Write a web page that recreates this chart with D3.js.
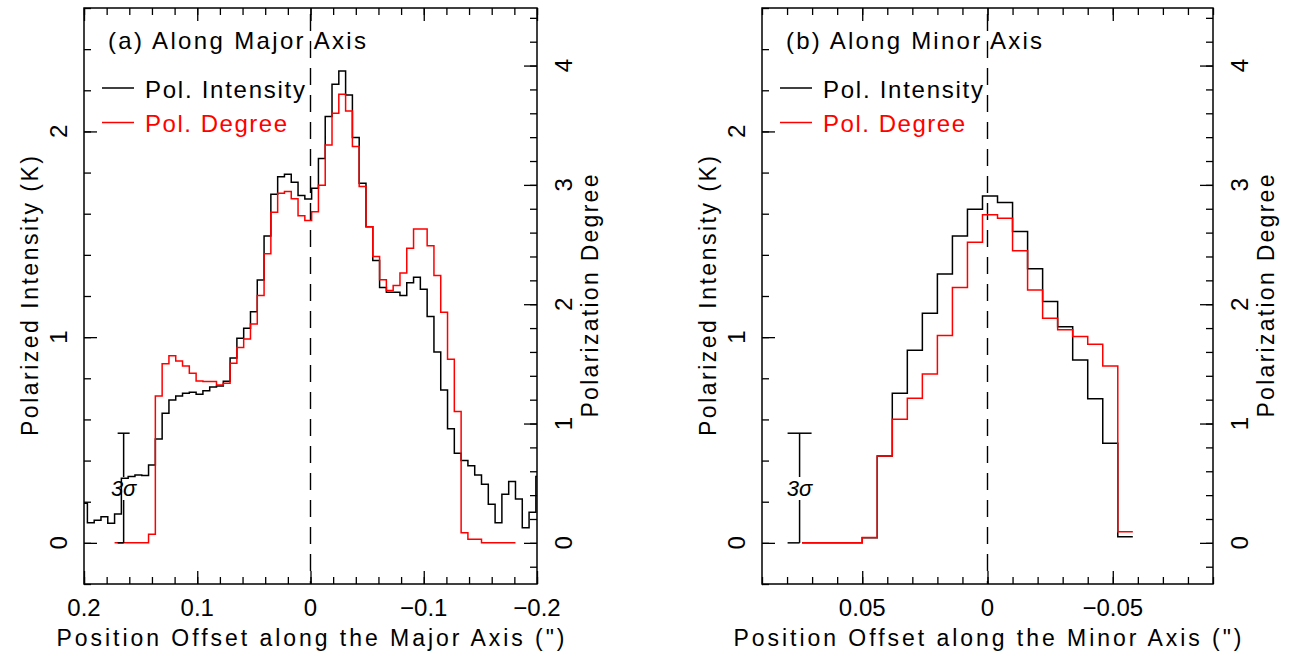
<!DOCTYPE html>
<html>
<head>
<meta charset="utf-8">
<title>Polarization profiles</title>
<script src="https://cdn.jsdelivr.net/npm/d3@7"></script>
<style>
  body { margin: 0; background: #fff; }
  text { font-family: "Liberation Sans", Arial, sans-serif; fill: #000; }
</style>
</head>
<body>
<svg id="chart" width="1291" height="657"></svg>
<script>
// ---- data ----
// (a) major axis: bin centres (arcsec), polarized intensity (K), polarization degree
const majorX = [0.200,0.194,0.188,0.182,0.176,0.170,0.164,0.158,0.152,0.146,
  0.140,0.134,0.128,0.122,0.116,0.110,0.104,0.098,0.092,0.086,
  0.080,0.074,0.068,0.062,0.056,0.050,0.044,0.038,0.032,0.026,
  0.020,0.014,0.008,0.002,-0.004,-0.010,-0.016,-0.022,-0.028,-0.034,
  -0.040,-0.046,-0.052,-0.058,-0.064,-0.070,-0.076,-0.082,-0.088,-0.094,
  -0.100,-0.106,-0.112,-0.118,-0.124,-0.130,-0.136,-0.142,-0.148,-0.154,
  -0.160,-0.166,-0.172,-0.178,-0.184,-0.190,-0.196,-0.202];
const majorPI = [0.193,0.098,0.110,0.127,0.095,0.140,0.314,0.322,0.330,0.327,
  0.379,0.505,0.630,0.695,0.714,0.727,0.732,0.722,0.740,0.758,
  0.763,0.785,0.899,0.995,1.043,1.124,1.278,1.492,1.695,1.780,
  1.792,1.753,1.688,1.672,1.724,1.868,2.072,2.229,2.294,2.177,
  1.970,1.748,1.537,1.372,1.241,1.218,1.218,1.202,1.265,1.291,
  1.233,1.100,0.928,0.743,0.555,0.436,0.400,0.375,0.330,0.285,
  0.188,0.098,0.236,0.298,0.213,0.074,0.149,0.322];
const majorPD = [null,null,null,null,null,0,0,0,0,0,
  0.072,1.231,1.500,1.569,1.525,1.483,1.422,1.357,1.353,1.353,
  1.322,1.338,1.505,1.638,1.709,1.835,2.072,2.422,2.771,2.930,
  2.944,2.883,2.742,2.702,2.774,2.996,3.335,3.601,3.760,3.620,
  3.321,2.986,2.650,2.399,2.204,2.114,2.156,2.262,2.469,2.631,
  2.631,2.489,2.240,1.933,1.539,1.101,0.085,0.030,0.030,0,
  0,0,0,0,null,null,null,null];

// (b) minor axis
const minorX = [0.071,0.065,0.059,0.053,0.047,0.041,0.035,0.029,0.023,0.017,0.011,
  0.005,-0.001,-0.007,-0.013,-0.019,-0.025,-0.031,-0.037,-0.043,-0.049,-0.055];
const minorPI = [0,0,0,0,0.025,0.422,0.727,0.936,1.116,1.307,1.492,
  1.622,1.686,1.654,1.513,1.333,1.173,1.051,0.889,0.700,0.484,0.030];
const minorPD = [0,0,0,0,0.044,0.728,1.036,1.212,1.416,1.737,2.139,
  2.520,2.749,2.721,2.447,2.120,1.883,1.785,1.729,1.665,1.483,0.094];

const binHalf = 0.003;           // half bin width (arcsec)
const sigma3 = 0.533;            // 3 sigma level (K)
const degPerK = 1.724;           // right axis units per K

// tick labels
const majorTickVals = [0.2, 0.1, 0, -0.1, -0.2];
const majorTickLabels = ["0.2", "0.1", "0", "\u22120.1", "\u22120.2"];
const minorTickVals = [0.05, 0, -0.05];
const minorTickLabels = ["0.05", "0", "\u22120.05"];
const kTickVals = [0, 1, 2];
const degTickVals = [0, 1, 2, 3, 4];

// ---- layout ----
const svg = d3.select("#chart");
const yTop = 8, yBottom = 584;

const panels = [
  { left: 84, right: 537, xDomain: [0.2, -0.2], xs: majorX, pi: majorPI, pd: majorPD,
    minorStep: 0.02, tickVals: majorTickVals, tickLabels: majorTickLabels,
    title: "(a) Along Major Axis", titleLen: 258,
    xTitle: "Position Offset along the Major Axis (\")", sigmaX: 0.165, capHalf: 6 },
  { left: 762, right: 1213, xDomain: [0.09, -0.09], xs: minorX, pi: minorPI, pd: minorPD,
    minorStep: 0.01, tickVals: minorTickVals, tickLabels: minorTickLabels,
    title: "(b) Along Minor Axis", titleLen: 256,
    xTitle: "Position Offset along the Minor Axis (\")", sigmaX: 0.075, capHalf: 12 }
];

function stepPoints(xs, vs) {
  const pts = [];
  xs.forEach((c, i) => {
    if (vs[i] == null) return;
    pts.push([c + binHalf, vs[i]], [c - binHalf, vs[i]]);
  });
  return pts;
}

function tickRange(a, b, step) {
  const out = [];
  const n = Math.round((b - a) / step);
  for (let i = 0; i <= n; i++) out.push(+(a + i * step).toFixed(4));
  return out;
}

panels.forEach((p, pi) => {
  const g = svg.append("g");
  const x = d3.scaleLinear().domain(p.xDomain).range([p.left, p.right]);
  const yK = d3.scaleLinear().domain([-0.2, 2.6]).range([yBottom, yTop]);
  const yD = d3.scaleLinear().domain([-0.2 * degPerK, 2.6 * degPerK]).range([yBottom, yTop]);

  const xMin = Math.min(...p.xDomain), xMax = Math.max(...p.xDomain);
  const xMinor = tickRange(xMin, xMax, p.minorStep);
  const kMinor = tickRange(-0.2, 2.6, 0.2);
  const dMinor = tickRange(-0.2, 4.4, 0.2);

  function axis(gen, tr, vals, size) {
    g.append("g").attr("transform", tr)
      .call(gen.tickValues(vals).tickSize(size).tickFormat(""))
      .call(s => s.select(".domain").remove())
      .call(s => s.selectAll("line").attr("stroke", "#000").attr("stroke-width", 1.3));
  }
  // bottom & top
  axis(d3.axisBottom(x), `translate(0,${yBottom})`, xMinor, -7);
  axis(d3.axisBottom(x), `translate(0,${yBottom})`, p.tickVals, -13);
  axis(d3.axisTop(x), `translate(0,${yTop})`, xMinor, -7);
  axis(d3.axisTop(x), `translate(0,${yTop})`, p.tickVals, -13);
  // left (K) & right (degree)
  axis(d3.axisLeft(yK), `translate(${p.left},0)`, kMinor, -7);
  axis(d3.axisLeft(yK), `translate(${p.left},0)`, kTickVals, -13);
  axis(d3.axisRight(yD), `translate(${p.right},0)`, dMinor, -7);
  axis(d3.axisRight(yD), `translate(${p.right},0)`, degTickVals, -13);

  // frame
  g.append("rect").attr("x", p.left).attr("y", yTop)
    .attr("width", p.right - p.left).attr("height", yBottom - yTop)
    .attr("fill", "none").attr("stroke", "#000").attr("stroke-width", 1.5);

  // x tick labels
  g.selectAll(".xl").data(p.tickVals).enter().append("text")
    .attr("x", d => x(d)).attr("y", 616)
    .attr("text-anchor", "middle").attr("font-size", 24)
    .text((d, i) => p.tickLabels[i]);

  // y tick labels (rotated, parallel to axis)
  g.selectAll(".yl").data(kTickVals).enter().append("text")
    .attr("transform", d => `translate(${p.left - 17},${yK(d)}) rotate(-90)`)
    .attr("text-anchor", "middle").attr("font-size", 24)
    .text(d => d);
  g.selectAll(".yr").data(degTickVals).enter().append("text")
    .attr("transform", d => `translate(${p.right + 35},${yD(d)}) rotate(-90)`)
    .attr("text-anchor", "middle").attr("font-size", 24)
    .text(d => d);

  // axis titles
  const midY = (yTop + yBottom) / 2;
  g.append("text")
    .attr("transform", `translate(${p.left - 46},${midY}) rotate(-90)`)
    .attr("text-anchor", "middle").attr("font-size", 23)
    .attr("textLength", 280).attr("lengthAdjust", "spacing")
    .text("Polarized Intensity (K)");
  g.append("text")
    .attr("transform", `translate(${p.right + 61},${midY}) rotate(-90)`)
    .attr("text-anchor", "middle").attr("font-size", 23)
    .attr("textLength", 243).attr("lengthAdjust", "spacing")
    .text("Polarization Degree");
  g.append("text")
    .attr("x", (p.left + p.right) / 2).attr("y", 646)
    .attr("text-anchor", "middle").attr("font-size", 23)
    .attr("textLength", 508).attr("lengthAdjust", "spacing")
    .text(p.xTitle);

  // dashed zero line
  g.append("line")
    .attr("x1", x(0)).attr("x2", x(0)).attr("y1", yTop).attr("y2", yBottom)
    .attr("stroke", "#000").attr("stroke-width", 1.4)
    .attr("stroke-dasharray", "17,10").attr("stroke-dashoffset", 21);

  // histograms
  const clipId = "clip" + pi;
  svg.append("clipPath").attr("id", clipId).append("rect")
    .attr("x", p.left).attr("y", yTop).attr("width", p.right - p.left).attr("height", yBottom - yTop);
  const lineK = d3.line().x(d => x(d[0])).y(d => yK(d[1]));
  const lineD = d3.line().x(d => x(d[0])).y(d => yD(d[1]));
  g.append("path").attr("clip-path", `url(#${clipId})`)
    .attr("d", lineK(stepPoints(p.xs, p.pi)))
    .attr("fill", "none").attr("stroke", "#000").attr("stroke-width", 1.5);
  g.append("path").attr("clip-path", `url(#${clipId})`)
    .attr("d", lineD(stepPoints(p.xs, p.pd)))
    .attr("fill", "none").attr("stroke", "#ff0000").attr("stroke-width", 1.5);

  // 3 sigma bar
  const sx = x(p.sigmaX);
  const bar = g.append("g").attr("stroke", "#000").attr("stroke-width", 1.5);
  bar.append("line").attr("x1", sx).attr("x2", sx).attr("y1", yK(sigma3)).attr("y2", 477);
  bar.append("line").attr("x1", sx).attr("x2", sx).attr("y1", 500).attr("y2", yK(0));
  bar.append("line").attr("x1", sx - p.capHalf).attr("x2", sx + p.capHalf)
    .attr("y1", yK(sigma3)).attr("y2", yK(sigma3));
  bar.append("line").attr("x1", sx - p.capHalf).attr("x2", sx)
    .attr("y1", yK(0)).attr("y2", yK(0));
  g.append("text").attr("x", sx).attr("y", 496)
    .attr("text-anchor", "middle").attr("font-size", 22).attr("font-style", "italic").text("3\u03c3");

  // panel title
  g.append("text").attr("x", p.left + 24).attr("y", 49)
    .attr("font-size", 24).attr("textLength", p.titleLen).attr("lengthAdjust", "spacing")
    .text(p.title);

  // legend
  g.append("line").attr("x1", p.left + 18).attr("x2", p.left + 50)
    .attr("y1", 88).attr("y2", 88).attr("stroke", "#000").attr("stroke-width", 1.5);
  g.append("text").attr("x", p.left + 61).attr("y", 98).attr("font-size", 24)
    .attr("textLength", 160).attr("lengthAdjust", "spacing").text("Pol. Intensity");
  g.append("line").attr("x1", p.left + 18).attr("x2", p.left + 50)
    .attr("y1", 122.5).attr("y2", 122.5).attr("stroke", "#ff0000").attr("stroke-width", 1.5);
  g.append("text").attr("x", p.left + 61).attr("y", 132).attr("font-size", 24)
    .attr("textLength", 142).attr("lengthAdjust", "spacing")
    .style("fill", "#ff0000").text("Pol. Degree");
});
</script>
</body>
</html>
